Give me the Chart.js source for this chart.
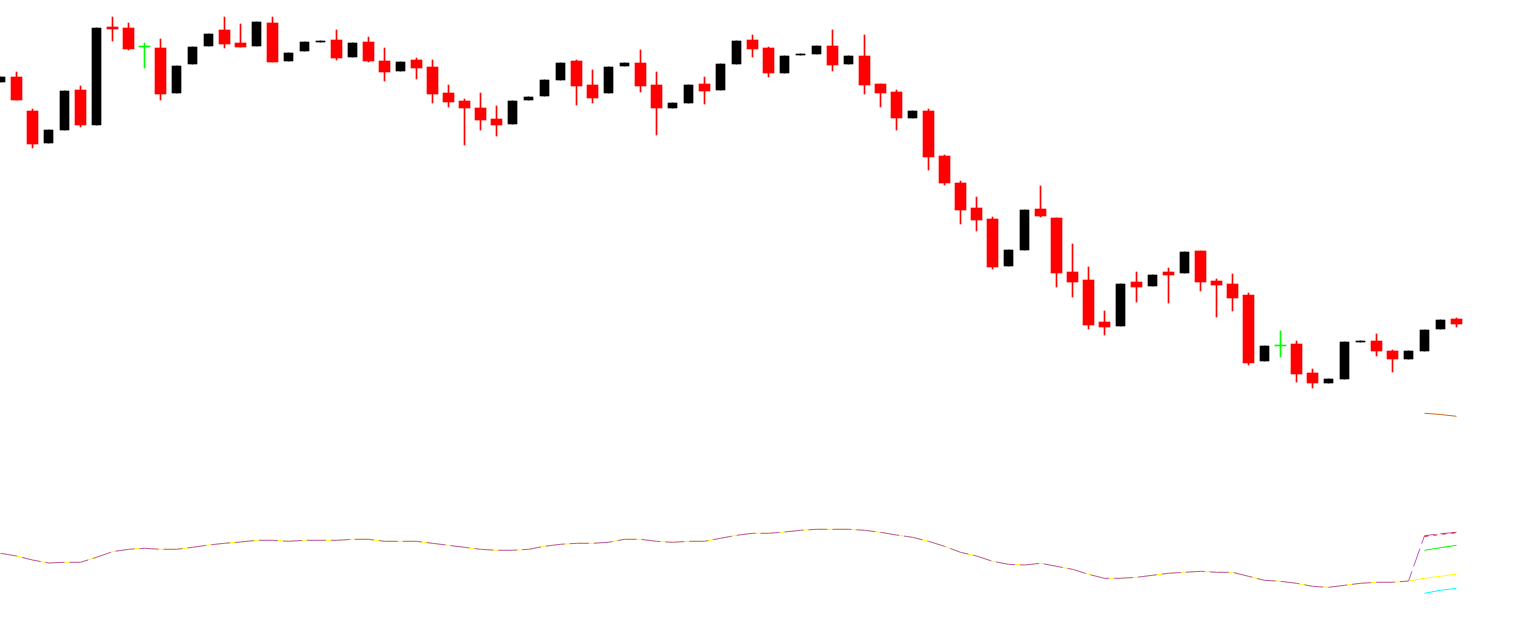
<!DOCTYPE html>
<html lang="en">
<head>
    <meta charset="UTF-8">
    <title>Candles</title>
    <script src="https://cdn.jsdelivr.net/npm/chart.js"></script>
    <style>
        html, body { margin: 0; padding: 0; background: #fff; }
        #wrap { width: 1529px; height: 627px; position: relative; }
    </style>
</head>
<body>
    <div id="wrap"><canvas id="chart"></canvas></div>

    <script>
        // candle values (bar index 0..91)
        const opens = [545, 550, 516, 484, 497, 537, 502, 600, 599, 580,
            579, 534, 563, 581, 597, 584, 581, 604, 566, 576,
            585, 587, 570, 585, 566, 556, 567, 560, 534, 526,
            519, 508, 503, 527, 531, 547, 566, 542, 534, 561,
            564, 542, 519, 524, 543, 537, 563, 587, 579, 554,
            572, 573, 581, 563, 571, 543, 535, 509, 516, 471,
            444, 419, 408, 361, 377, 418, 409, 355, 347, 305,
            301, 345, 341, 355, 354, 376, 346, 343, 332, 266,
            281, 283, 254, 244, 248, 285, 286, 276, 268, 276,
            298, 308];
        const closes = [550, 527, 483, 497, 536, 502, 599, 598, 578, 580,
            533, 561, 580, 593, 583, 580, 605, 565, 574, 585,
            586, 569, 584, 566, 555, 565, 559, 533, 525, 519,
            507, 502, 526, 530, 547, 564, 541, 529, 560, 564,
            541, 519, 524, 542, 536, 563, 586, 578, 554, 571,
            573, 581, 562, 571, 542, 534, 509, 516, 470, 444,
            417, 407, 360, 377, 417, 411, 354, 345, 302, 300,
            343, 340, 352, 352, 375, 345, 342, 329, 264, 281,
            281, 253, 244, 248, 285, 286, 276, 268, 276, 297,
            307, 303];
        const highs = [550, 555, 518, 497, 536, 541, 599, 610, 604, 584,
            588, 561, 580, 593, 610, 603, 605, 610, 574, 585,
            586, 597, 584, 590, 579, 565, 569, 567, 542, 528,
            534, 521, 526, 530, 547, 564, 567, 557, 560, 564,
            577, 555, 524, 542, 550, 563, 586, 592, 580, 571,
            573, 581, 597, 571, 592, 543, 537, 516, 518, 472,
            446, 430, 410, 377, 417, 441, 409, 383, 360, 316,
            343, 355, 352, 359, 375, 376, 348, 353, 334, 281,
            296, 286, 258, 248, 285, 286, 293, 277, 276, 297,
            307, 309];
        const lows = [545, 527, 479, 484, 497, 500, 502, 586, 577, 559,
            527, 534, 563, 581, 579, 580, 581, 565, 566, 576,
            585, 567, 570, 565, 546, 556, 548, 524, 520, 482,
            497, 491, 503, 527, 531, 547, 522, 524, 534, 561,
            535, 492, 519, 524, 523, 537, 563, 570, 550, 554,
            572, 573, 556, 563, 533, 520, 497, 509, 457, 442,
            403, 396, 358, 361, 377, 410, 340, 330, 298, 292,
            301, 325, 341, 324, 354, 336, 310, 316, 262, 266,
            270, 245, 239, 244, 248, 285, 271, 255, 268, 276,
            298, 300];

        // lower indicator: shared part (0..88) and the last three bars
        const oscBase = [73.7, 71, 67, 64, 64.7, 64.7, 69.7, 75.3, 77.7, 78.7,
            77.7, 77.7, 79.7, 82, 83.7, 85, 86.7, 86.7, 85.7, 86.7,
            86.7, 86.7, 87.7, 87.7, 85.7, 85.7, 85.7, 83.7, 81.7, 79.7,
            77.7, 76.7, 76.7, 77.7, 80.7, 82.7, 83.7, 83.7, 84.7, 87.7,
            87.7, 85.7, 84.7, 85.7, 85.7, 88.7, 91.7, 93.7, 93.7, 95,
            96.7, 97.7, 97.7, 97.7, 96.7, 94.7, 92, 89.7, 85.7, 80.7,
            74.7, 71, 65.7, 62.7, 62, 63.7, 60.7, 57.7, 52.7, 48.7,
            48.7, 49.7, 51.7, 53.7, 54.7, 55.7, 54.7, 54.7, 50.7, 46.7,
            45.7, 43.7, 40.7, 39.7, 41.7, 43.7, 44.7, 44.7, 46];
        const signalTail = [48.7, 50.7, 53];
        const mainTail = [91.3, 93.3, 94.7];
        const tailIdx = [89, 90, 91];
        const redLevel = [90.6, 92.6, 94.4];
        const greenLevel = [76.7, 79.3, 81.7];
        const cyanLevel = [33.7, 36.7, 38.7];
        const brownLevel = [213.7, 212.5, 210.7];

        const RED = '#ff0000', BLACK = '#000000', GREEN = '#00ff00';

        function candleColor(i) {
            if (closes[i] < opens[i]) return RED;
            if (closes[i] > opens[i]) return BLACK;
            return GREEN;
        }

        const idx = opens.map((_, i) => i);
        const wicks = idx.map(i => ({ x: i, y: [lows[i], highs[i]] }));
        const wickColors = idx.map(candleColor);
        const redBodies = idx.filter(i => closes[i] < opens[i]).map(i => ({ x: i, y: [closes[i], opens[i]] }));
        const blackBodies = idx.filter(i => closes[i] > opens[i]).map(i => ({ x: i, y: [opens[i], closes[i]] }));
        const dojiBodies = idx.filter(i => closes[i] === opens[i]).map(i => ({ x: i, y: [opens[i], closes[i]] }));

        const toPts = (xs, ys) => ys.map((v, j) => ({ x: xs[j], y: v }));
        const signalLine = oscBase.concat(signalTail).map((v, i) => ({ x: i, y: v }));
        const mainLine = oscBase.concat(mainTail).map((v, i) => ({ x: i, y: v }));

        const lineDs = (data, color, extra) => Object.assign({
            type: 'line', data, borderColor: color, borderWidth: 1,
            pointRadius: 0, tension: 0, fill: false
        }, extra || {});

        new Chart(document.getElementById('chart'), {
            type: 'bar',
            data: {
                datasets: [
                    { data: wicks, backgroundColor: wickColors, barThickness: 1, grouped: false, order: 5 },
                    { data: redBodies, backgroundColor: RED, barThickness: 11, grouped: false, order: 4 },
                    { data: blackBodies, backgroundColor: BLACK, barThickness: 9, grouped: false, order: 4 },
                    { data: dojiBodies, backgroundColor: GREEN, barThickness: 11, minBarLength: 1, grouped: false, order: 4 },
                    lineDs(signalLine, '#ffff00', { order: 3 }),
                    lineDs(mainLine, '#ba55d3', { order: 2, borderDash: [19, 5], borderDashOffset: 2 }),
                    lineDs(toPts(tailIdx, redLevel), RED, { order: 1, borderDash: [4, 5] }),
                    lineDs(toPts(tailIdx, greenLevel), GREEN, { order: 1 }),
                    lineDs(toPts(tailIdx, cyanLevel), '#00ffff', { order: 1 }),
                    lineDs(toPts(tailIdx, brownLevel), '#d2691e', { order: 1 })
                ]
            },
            options: {
                responsive: true,
                maintainAspectRatio: false,
                devicePixelRatio: 1,
                animation: false,
                layout: { padding: 0 },
                plugins: { legend: { display: false }, tooltip: { enabled: false } },
                scales: {
                    x: { type: 'linear', display: false, offset: false, min: -0.03125, max: 95.53125 },
                    y: { type: 'linear', display: false, min: 0, max: 627 }
                }
            }
        });
    </script>
</body>
</html>
